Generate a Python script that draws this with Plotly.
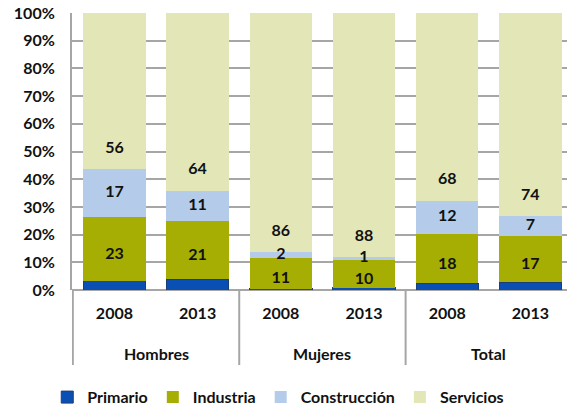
import plotly.graph_objects as go
import numpy as np

grupos = ["Hombres", "Hombres", "Mujeres", "Mujeres", "Total", "Total"]
anios = ["2008", "2013", "2008", "2013", "2008", "2013"]

primario = [3.3, 3.8, 0.5, 0.9, 2.4, 2.8]
industria = [23, 21, 11, 10, 18, 17]
construccion = [17, 11, 2, 1, 12, 7]
servicios = [56, 64, 86, 88, 68, 74]

series = [
    ("Primario", primario, "#0A50B4"),
    ("Industria", industria, "#A6AE04"),
    ("Construcción", construccion, "#B4CCE9"),
    ("Servicios", servicios, "#E3E7B7"),
]

FONT = "Lato"
FS = 16
GRID = "#A6A6A6"
xpos = np.arange(len(anios))

fig = go.Figure()
for name, vals, col in series:
    line = dict(color="#1C3E78", width=1) if name == "Primario" else dict(width=0)
    fig.add_trace(go.Bar(x=xpos, y=vals, name=name, marker=dict(color=col, line=line)))

# labels (positions follow the percent-normalised stack)
tot = np.array(primario) + np.array(industria) + np.array(construccion) + np.array(servicios)
p = np.array(primario) / tot * 100
i = np.array(industria) / tot * 100
c = np.array(construccion) / tot * 100
base_ind = p
base_con = p + i
base_ser = p + i + c

tf = dict(family=FONT, size=FS, color="#111111", weight="bold")
fig.add_trace(go.Scatter(x=xpos, y=base_ind + i / 2 - 2.2, mode="text",
                         text=[str(v) for v in industria], showlegend=False,
                         textfont=tf, hoverinfo="skip"))
fig.add_trace(go.Scatter(x=xpos, y=base_con + c / 2, mode="text",
                         text=[str(v) for v in construccion], showlegend=False,
                         textfont=tf, hoverinfo="skip"))
fig.add_trace(go.Scatter(x=xpos, y=base_ser + 7.3, mode="text",
                         text=[str(v) for v in servicios], showlegend=False,
                         textfont=tf, hoverinfo="skip"))

# group labels and dividers
orden = list(dict.fromkeys(grupos))
annotations = []
shapes = []
bounds = []
for g in orden:
    idx = [k for k, gg in enumerate(grupos) if gg == g]
    annotations.append(dict(x=float(np.mean(idx)), y=0, xref="x", yref="paper",
                            text=g, showarrow=False, yanchor="middle", yshift=-63,
                            font=tf))
    bounds.append(min(idx) - 0.5)
for b in bounds:
    shapes.append(dict(type="line", xref="x", yref="paper", x0=b, x1=b, y0=0, y1=-0.271,
                       line=dict(color=GRID, width=2)))

fig.update_layout(
    barmode="stack",
    barnorm="percent",
    bargap=0.25,
    width=567, height=410,
    margin=dict(l=72, r=0, t=13, b=120, autoexpand=False),
    paper_bgcolor="white", plot_bgcolor="white",
    font=dict(family=FONT, size=FS, color="#111111", weight="bold"),
    legend=dict(orientation="h", x=-0.05, xanchor="left", y=-0.387, yanchor="middle",
                font=tf, traceorder="normal", itemwidth=30),
    xaxis=dict(range=[-0.51, 5.44], showgrid=False, zeroline=False,
               showline=False, ticks="", tickmode="array", tickvals=xpos,
               ticktext=anios, tickfont=tf, ticklabelstandoff=12),
    yaxis=dict(range=[0, 100], dtick=10, ticksuffix="%", showgrid=True,
               gridcolor=GRID, gridwidth=2, showline=True, linecolor=GRID,
               linewidth=2, zeroline=True, zerolinecolor=GRID, zerolinewidth=2,
               tickfont=tf, ticklabelstandoff=12),
    annotations=annotations,
    shapes=shapes,
    showlegend=True,
)

fig.write_html("out.html", config={"displayModeBar": False},
               post_script="document.body.style.margin='0';")
